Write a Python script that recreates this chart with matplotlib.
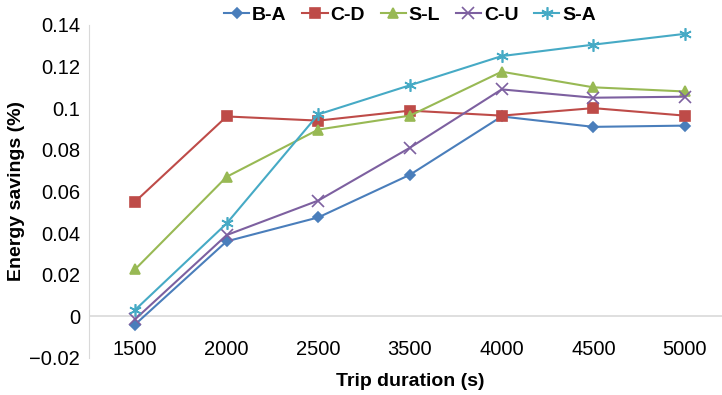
import numpy as np
import matplotlib.pyplot as plt

plt.rcParams['font.family'] = ['Liberation Sans', 'DejaVu Sans']

durations = ["1500", "2000", "2500", "3500", "4000", "4500", "5000"]

b_a = [-0.004, 0.036, 0.0475, 0.068, 0.096, 0.091, 0.0916]
c_d = [0.055, 0.096, 0.094, 0.0988, 0.0964, 0.100, 0.0964]
s_l = [0.0225, 0.067, 0.0897, 0.0964, 0.1175, 0.110, 0.108]
c_u = [-0.0015, 0.039, 0.0556, 0.081, 0.109, 0.105, 0.1055]
s_a = [0.003, 0.0446, 0.097, 0.111, 0.125, 0.1305, 0.1357]

series = [
    ("B-A", b_a, "#4a7ebb", "D", 5),
    ("C-D", c_d, "#be4b48", "s", 7),
    ("S-L", s_l, "#98b954", "^", 7),
    ("C-U", c_u, "#7d60a0", "x", 8),
    ("S-A", s_a, "#46aac5", (6, 2, 0), 9),
]

fig = plt.figure(figsize=(7.22, 3.95), dpi=100)
ax = fig.add_axes([0.1235, 0.094, 0.8887, 0.843])

x = np.arange(len(durations))
for name, vals, col, mk, ms in series:
    ax.plot(x, vals, color=col, marker=mk, markersize=ms, linewidth=1.5,
            markeredgewidth=1.2, label=name)

ax.set_xlim(-0.5, 6.5)
ax.set_ylim(-0.02, 0.14)
ax.set_yticks(np.arange(-0.02, 0.141, 0.02))
ax.set_yticklabels(["\u22120.02", "0", "0.02", "0.04", "0.06", "0.08", "0.1", "0.12", "0.14"])
ax.set_xticks(x, durations)
ax.tick_params(length=0, labelsize=14.5)
ax.tick_params(axis='y', pad=6.5)
ax.tick_params(axis='x', pad=-13)

ax.axhline(0, color="#d9d9d9", linewidth=1.2, zorder=0)
for s in ["top", "right", "bottom"]:
    ax.spines[s].set_visible(False)
ax.spines["left"].set_color("#d9d9d9")

ax.set_xlabel("Trip duration (s)", fontsize=14, fontweight="bold")
ax.set_ylabel("Energy savings (%)", fontsize=14, fontweight="bold")
ax.xaxis.set_label_coords(0.5, -0.046)
ax.yaxis.set_label_coords(-0.1, 0.5)

ax.legend(loc="center", bbox_to_anchor=(0.5, 1.03), bbox_transform=ax.transAxes,
          ncol=5, frameon=False, prop={"weight": "bold", "size": 14},
          handlelength=1.3, handletextpad=0.15, columnspacing=0.8,
          borderpad=0.1)

fig.savefig("out.png", dpi=100)
